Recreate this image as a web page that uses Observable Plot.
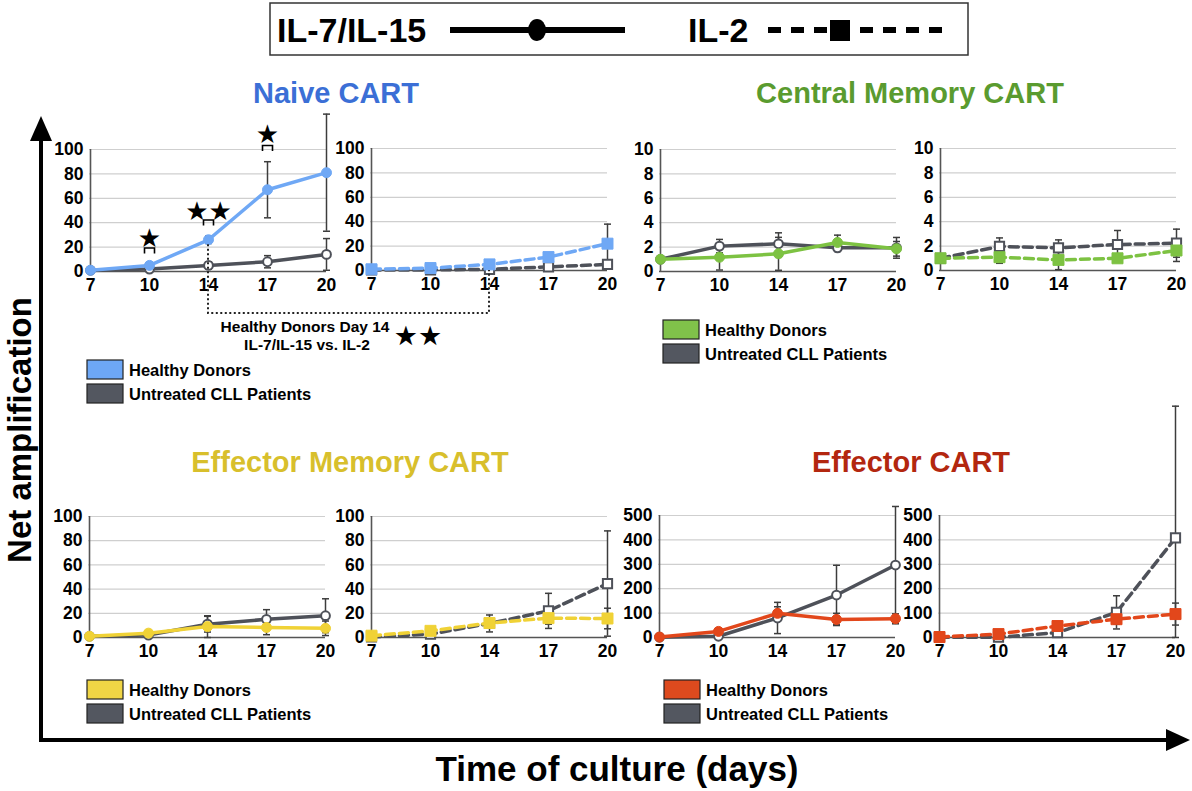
<!DOCTYPE html>
<html>
<head>
<meta charset="utf-8">
<script src="https://cdn.jsdelivr.net/npm/d3@7"></script>
<script src="https://cdn.jsdelivr.net/npm/@observablehq/plot@0.6"></script>
<style>
  body { margin: 0; background: white; }
  #fig { position: relative; width: 1192px; height: 791px; overflow: hidden; background: white; font-family: "Liberation Sans", Arial, sans-serif; }
</style>
</head>
<body>
<div id="fig"></div>
<script>
// ---------- data ----------
const days = [7, 10, 14, 17, 20];

// Naive CART
const naiveIL715Healthy = [1, 5, 26, 67, 81];
const naiveIL715HealthyErr = [0.5, 1.5, 3, 23, 48];
const naiveIL715CLL = [1, 2, 5, 8, 14];
const naiveIL715CLLErr = [0.5, 1, 3, 5, 13];
const naiveIL2Healthy = [1, 2, 5, 11, 22];
const naiveIL2HealthyErr = [0.5, 1, 1.5, 3.5, 16];
const naiveIL2CLL = [0.5, 0.5, 1, 3, 5];
const naiveIL2CLLErr = [0.3, 0.3, 0.5, 1, 2];

// Central Memory CART
const cmIL715Healthy = [1.0, 1.17, 1.45, 2.38, 1.86];
const cmIL715HealthyErr = [0.05, 1.05, 1.35, 0.6, 0.6];
const cmIL715CLL = [1.0, 2.08, 2.27, 1.94, 1.94];
const cmIL715CLLErr = [0.05, 0.55, 0.9, 0.3, 0.85];
const cmIL2Healthy = [1.0, 1.09, 0.87, 1.0, 1.64];
const cmIL2HealthyErr = [0.05, 0.5, 0.8, 0.3, 0.9];
const cmIL2CLL = [1.0, 1.97, 1.86, 2.13, 2.24];
const cmIL2CLLErr = [0.05, 0.7, 0.65, 1.15, 1.15];

// Effector Memory CART
const emIL715Healthy = [1, 3.6, 9, 8.3, 7.6];
const emIL715HealthyErr = [0.3, 2, 9, 6, 6];
const emIL715CLL = [1, 2, 11, 15, 18];
const emIL715CLLErr = [0.3, 1.5, 6.5, 8, 14];
const emIL2Healthy = [1.5, 5.5, 12, 16, 15.7];
const emIL2HealthyErr = [0.3, 1.5, 3, 5, 8.5];
const emIL2CLL = [0.5, 2.8, 11.6, 22, 44.6];
const emIL2CLLErr = [0.3, 1, 7, 14.5, 43.5];

// Effector CART
const effIL715Healthy = [2, 25, 99, 74, 77];
const effIL715HealthyErr = [1, 5, 27, 25, 20];
const effIL715CLL = [1, 5, 80, 174, 297];
const effIL715CLLErr = [0.5, 3, 64, 122, 240];
const effIL2Healthy = [2, 14, 47, 75, 96];
const effIL2HealthyErr = [1, 4, 10, 20, 45];
const effIL2CLL = [1, 1, 20, 103, 408];
const effIL2CLLErr = [0.5, 0.5, 8, 68, 540];

// tick labels
const ticks100 = [0, 20, 40, 60, 80, 100];
const ticks10 = [0, 2, 4, 6, 8, 10];
const ticks500 = [0, 100, 200, 300, 400, 500];

// significance annotations (Naive, IL-7/IL-15)
const starDays = [10, 14, 17];
const starLevels = [27, 49, 112];
const starLabels = ["★", "★★", "★"];
const bracketLevels = [17, 40, 101];

// colours
const cllColor = "#4e5159";
const naiveColor = "#6fa8f5";
const cmColor = "#7dc242";
const emColor = "#f0d236";
const effColor = "#e2471b";

// ---------- helpers ----------
const fig = document.getElementById("fig");
const FONT = "Liberation Sans, Arial, Helvetica, sans-serif";
const ML = 52, MR = 22, MT = 10, MB = 32, PW = 237;

const capSymbol = {
  draw(ctx, size) {
    const r = Math.sqrt(size / Math.PI);
    ctx.moveTo(-r, 0); ctx.lineTo(r, 0);
  }
};
const bracketSymbol = {
  draw(ctx, size) {
    const r = Math.sqrt(size / Math.PI);
    ctx.moveTo(-r, r * 0.55); ctx.lineTo(-r, -r * 0.55);
    ctx.lineTo(r, -r * 0.55); ctx.lineTo(r, r * 0.55);
  }
};

const bottomOverlay = d3.select(fig).append("svg")
  .attr("width", 1192).attr("height", 791)
  .style("position", "absolute").style("left", "0px").style("top", "0px");

function table(vals, errs) {
  return days.map((d, i) => ({day: d, v: vals[i], lo: Math.max(0, vals[i] - errs[i]), hi: vals[i] + errs[i]}));
}

function panel({left, top, h, yMax, yTicks, healthy, healthyErr, cll, cllErr, color, il2, extra = []}) {
  const H = table(healthy, healthyErr);
  const C = table(cll, cllErr);
  const dash = il2 ? "9,5" : null;
  const symbol = il2 ? "square" : "circle";
  const rFill = il2 ? 6.2 : 5;
  const rOpen = il2 ? 5.2 : 4.4;
  const errMarks = (T) => [
    Plot.ruleX(T, {x: "day", y1: "lo", y2: "hi", stroke: "#3d3d3d", strokeWidth: 1.5}),
    Plot.dot(T, {x: "day", y: "hi", symbol: capSymbol, r: 3.5, stroke: "#3d3d3d", strokeWidth: 1.5, fill: "none"}),
    Plot.dot(T, {x: "day", y: "lo", symbol: capSymbol, r: 3.5, stroke: "#3d3d3d", strokeWidth: 1.5, fill: "none"})
  ];
  const plot = Plot.plot({
    width: ML + PW + MR, height: MT + h + MB,
    marginLeft: ML, marginRight: MR, marginTop: MT, marginBottom: MB,
    style: {background: "transparent", overflow: "visible", fontFamily: FONT, fontSize: "17px", fontWeight: "bold", color: "black"},
    x: {type: "point", domain: days, padding: 0, label: null},
    y: {domain: [0, yMax], label: null},
    marks: [
      Plot.gridY(yTicks, {stroke: "#cfcfcf", strokeOpacity: 1, strokeWidth: 1.2}),
      Plot.ruleY([0], {stroke: "#555", strokeWidth: 1.6}),
      Plot.ruleX([7], {stroke: "#555", strokeWidth: 1.6}),
      Plot.axisY(yTicks, {tickSize: 0, tickPadding: 6, fontSize: 17.5, fontWeight: "bold", fill: "black"}),
      Plot.axisX(days, {tickSize: 0, tickPadding: 7, fontSize: 17.5, fontWeight: "bold", fill: "black"}),
      ...errMarks(C),
      ...errMarks(H),
      Plot.line(C, {x: "day", y: "v", stroke: cllColor, strokeWidth: 3.5, strokeDasharray: dash}),
      Plot.dot(C, {x: "day", y: "v", symbol, r: rOpen, fill: "white", stroke: cllColor, strokeWidth: 2}),
      Plot.line(H, {x: "day", y: "v", stroke: color, strokeWidth: 3.5, strokeDasharray: dash}),
      Plot.dot(H, {x: "day", y: "v", symbol, r: rFill, fill: color, stroke: color, strokeWidth: 1}),
      ...extra
    ]
  });
  plot.style.position = "absolute";
  plot.style.left = (left - ML) + "px";
  plot.style.top = (top - MT) + "px";
  fig.appendChild(plot);
  return {plot, left, top};
}

// ---------- panels ----------
const stars = starDays.map((d, i) => ({day: d, v: starLevels[i], label: starLabels[i], b: bracketLevels[i]}));
const starMarks = [
  Plot.text(stars, {x: "day", y: "v", text: "label", fontSize: 26, fontFamily: "DejaVu Sans", fontWeight: "normal", fill: "black"}),
  Plot.dot(stars, {x: "day", y: "b", symbol: bracketSymbol, r: 5, stroke: "black", strokeWidth: 1.6, fill: "none"})
];

const p1 = panel({left: 89, top: 149, h: 122, yMax: 100, yTicks: ticks100, healthy: naiveIL715Healthy, healthyErr: naiveIL715HealthyErr, cll: naiveIL715CLL, cllErr: naiveIL715CLLErr, color: naiveColor, il2: false, extra: starMarks});
const p2 = panel({left: 370, top: 148, h: 122, yMax: 100, yTicks: ticks100, healthy: naiveIL2Healthy, healthyErr: naiveIL2HealthyErr, cll: naiveIL2CLL, cllErr: naiveIL2CLLErr, color: naiveColor, il2: true});
panel({left: 659, top: 149, h: 122, yMax: 10, yTicks: ticks10, healthy: cmIL715Healthy, healthyErr: cmIL715HealthyErr, cll: cmIL715CLL, cllErr: cmIL715CLLErr, color: cmColor, il2: false});
panel({left: 939, top: 148, h: 122, yMax: 10, yTicks: ticks10, healthy: cmIL2Healthy, healthyErr: cmIL2HealthyErr, cll: cmIL2CLL, cllErr: cmIL2CLLErr, color: cmColor, il2: true});
panel({left: 88, top: 516, h: 121, yMax: 100, yTicks: ticks100, healthy: emIL715Healthy, healthyErr: emIL715HealthyErr, cll: emIL715CLL, cllErr: emIL715CLLErr, color: emColor, il2: false});
panel({left: 370, top: 516, h: 121, yMax: 100, yTicks: ticks100, healthy: emIL2Healthy, healthyErr: emIL2HealthyErr, cll: emIL2CLL, cllErr: emIL2CLLErr, color: emColor, il2: true});
panel({left: 658, top: 515, h: 122, yMax: 500, yTicks: ticks500, healthy: effIL715Healthy, healthyErr: effIL715HealthyErr, cll: effIL715CLL, cllErr: effIL715CLLErr, color: effColor, il2: false});
panel({left: 938, top: 515, h: 122, yMax: 500, yTicks: ticks500, healthy: effIL2Healthy, healthyErr: effIL2HealthyErr, cll: effIL2CLL, cllErr: effIL2CLLErr, color: effColor, il2: true});

// ---------- decorations ----------
const ov = bottomOverlay;
// big axes arrows
ov.append("line").attr("x1", 41).attr("y1", 741).attr("x2", 41).attr("y2", 134).attr("stroke", "black").attr("stroke-width", 4);
ov.append("polygon").attr("points", "41,116 30,141 52,141").attr("fill", "black");
ov.append("line").attr("x1", 39).attr("y1", 740).attr("x2", 1172).attr("y2", 740).attr("stroke", "black").attr("stroke-width", 4);
ov.append("polygon").attr("points", "1190,740 1166,729 1166,751").attr("fill", "black");

ov.append("text").attr("transform", "translate(31,430) rotate(-90)").attr("text-anchor", "middle")
  .attr("font-family", FONT).attr("font-weight", "bold").attr("font-size", 33).text("Net amplification");
ov.append("text").attr("x", 617).attr("y", 781).attr("text-anchor", "middle")
  .attr("font-family", FONT).attr("font-weight", "bold").attr("font-size", 35).text("Time of culture (days)");

// titles
const titles = [
  {t: "Naive CART", x: 336, y: 103, c: "#3b6fd6"},
  {t: "Central Memory CART", x: 910, y: 103, c: "#5a9b2f"},
  {t: "Effector Memory CART", x: 350, y: 472, c: "#d8bf2c"},
  {t: "Effector CART", x: 911, y: 472, c: "#b3270f"}
];
titles.forEach(d => ov.append("text").attr("x", d.x).attr("y", d.y).attr("text-anchor", "middle")
  .attr("font-family", FONT).attr("font-weight", "bold").attr("font-size", 29).attr("fill", d.c).text(d.t));

// top legend
ov.append("rect").attr("x", 270).attr("y", 3).attr("width", 698).attr("height", 52).attr("fill", "none").attr("stroke", "#333").attr("stroke-width", 1.5);
ov.append("text").attr("x", 277).attr("y", 42).attr("font-family", FONT).attr("font-weight", "bold").attr("font-size", 34).text("IL-7/IL-15");
ov.append("line").attr("x1", 450).attr("x2", 625).attr("y1", 30).attr("y2", 30).attr("stroke", "black").attr("stroke-width", 6);
ov.append("ellipse").attr("cx", 537).attr("cy", 30).attr("rx", 9).attr("ry", 11).attr("fill", "black");
ov.append("text").attr("x", 688).attr("y", 42).attr("font-family", FONT).attr("font-weight", "bold").attr("font-size", 34).text("IL-2");
ov.append("line").attr("x1", 768).attr("x2", 948).attr("y1", 30).attr("y2", 30).attr("stroke", "black").attr("stroke-width", 6).attr("stroke-dasharray", "13,10");
ov.append("rect").attr("x", 830).attr("y", 20).attr("width", 20).attr("height", 21).attr("fill", "black");

// legends
function legend(x, y, color) {
  const rows = [{c: color, t: "Healthy Donors"}, {c: "#535760", t: "Untreated CLL Patients"}];
  rows.forEach((r, i) => {
    ov.append("rect").attr("x", x).attr("y", y + i * 24).attr("width", 36).attr("height", 19)
      .attr("fill", r.c).attr("stroke", "#222").attr("stroke-width", 1.2);
    ov.append("text").attr("x", x + 42).attr("y", y + i * 24 + 16).attr("font-family", FONT)
      .attr("font-weight", "bold").attr("font-size", 16.5).text(r.t);
  });
}
legend(87, 360, "#6da7f6");
legend(663, 320, "#80c24a");
legend(87, 680, "#f0d545");
legend(664, 680, "#dd4a1e");

// day-14 comparison annotation
ov.append("text").attr("x", 305).attr("y", 332).attr("text-anchor", "middle").attr("font-family", FONT)
  .attr("font-weight", "bold").attr("font-size", 15.5).text("Healthy Donors Day 14");
ov.append("text").attr("x", 307).attr("y", 350).attr("text-anchor", "middle").attr("font-family", FONT)
  .attr("font-weight", "bold").attr("font-size", 15.5).text("IL-7/IL-15 vs. IL-2");
ov.append("text").attr("x", 418).attr("y", 345).attr("text-anchor", "middle").attr("font-family", "DejaVu Sans")
  .attr("font-size", 27).text("★★");

// dotted bracket linking the day-14 points of the two naive panels
const topOv = d3.select(fig).append("svg")
  .attr("width", 1192).attr("height", 791)
  .style("position", "absolute").style("left", "0px").style("top", "0px").style("pointer-events", "none");
function pos(p, day, v) {
  return [p.left - ML + p.plot.scale("x").apply(day), p.top - MT + p.plot.scale("y").apply(v)];
}
const a = pos(p1, 14, naiveIL715Healthy[2]);
const b = pos(p2, 14, naiveIL2Healthy[2]);
topOv.append("path").attr("d", `M${a[0]},${a[1] + 5}V313H${b[0]}V${b[1] + 6}`)
  .attr("fill", "none").attr("stroke", "#222").attr("stroke-width", 2).attr("stroke-dasharray", "2,2.5");
</script>
</body>
</html>
